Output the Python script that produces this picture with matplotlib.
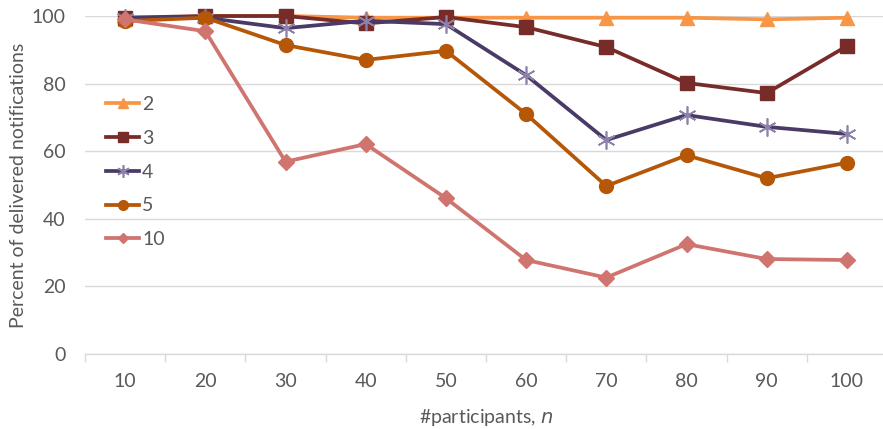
import matplotlib
matplotlib.use("Agg")
import matplotlib.pyplot as plt
from matplotlib.ticker import FixedLocator

plt.rcParams['font.family'] = ['Lato', 'DejaVu Sans']

categories = ["10", "20", "30", "40", "50", "60", "70", "80", "90", "100"]
series_names = ["2", "3", "4", "5", "10"]

vals_2 = [99.0, 100.0, 100.0, 99.5, 99.5, 99.5, 99.5, 99.5, 99.0, 99.5]
vals_3 = [99.5, 100.0, 100.0, 97.8, 99.7, 96.7, 90.8, 80.2, 77.2, 91.1]
vals_4 = [99.5, 99.5, 96.4, 98.6, 97.6, 82.5, 63.3, 70.7, 67.2, 65.1]
vals_5 = [98.5, 99.5, 91.4, 87.0, 89.7, 71.0, 49.7, 58.8, 52.0, 56.6]
vals_10 = [99.0, 95.5, 56.9, 62.1, 46.1, 27.8, 22.6, 32.5, 28.1, 27.8]

yticks = [0, 20, 40, 60, 80, 100]

fig = plt.figure(figsize=(8.83, 4.29), dpi=100)
ax = fig.add_axes([85 / 883, 1 - 354 / 429, 802 / 883, 338 / 429])

x = list(range(len(categories)))
text_col = "#595959"

styles = [
    dict(color="#F79646", marker="^", ms=10, mec="#F79646", mfc="#F79646"),
    dict(color="#772C2A", marker="s", ms=10, mec="#772C2A", mfc="#772C2A"),
    dict(color="#4A3A66", marker=(6, 2, 0), ms=13, mec="#8C82AA", mfc="none", mew=1.2),
    dict(color="#B65708", marker="o", ms=10, mec="#B65708", mfc="#B65708"),
    dict(color="#D07470", marker="D", ms=8, mec="#D07470", mfc="#D07470"),
]
all_vals = [vals_2, vals_3, vals_4, vals_5, vals_10]

handles = []
for name, vals, st in zip(series_names, all_vals, styles):
    h, = ax.plot(x, vals, lw=2.7, label=name, zorder=3, clip_on=False,
                 solid_joinstyle="round", **st)
    handles.append(h)

ax.set_xlim(-0.5, len(categories) - 0.5)
ax.set_ylim(0, 100)
ax.set_yticks(yticks)
ax.set_xticks(x)
ax.set_xticklabels(categories)
ax.xaxis.set_minor_locator(FixedLocator([i - 0.5 for i in range(len(categories) + 1)]))

ax.grid(axis="y", color="#D9D9D9", lw=1.0)
ax.set_axisbelow(True)
for s in ["top", "right", "left"]:
    ax.spines[s].set_visible(False)
ax.spines["bottom"].set_color("#D9D9D9")
ax.spines["bottom"].set_linewidth(1.0)

ax.tick_params(axis="y", length=0, labelsize=14, labelcolor=text_col, pad=14)
ax.tick_params(axis="x", which="major", length=0, labelsize=14, labelcolor=text_col, pad=14)
ax.tick_params(axis="x", which="minor", length=6, color="#D9D9D9", width=1.0)

ax.set_ylabel("Percent of delivered notifications", fontsize=14, color=text_col, labelpad=3)
ax.set_xlabel("#participants, $n$", fontsize=14, color=text_col, labelpad=12)

leg = ax.legend(handles=handles, loc="upper left", bbox_to_anchor=(0.012, 0.797),
                frameon=False, fontsize=14, labelcolor=text_col,
                handlelength=1.7, handletextpad=0.15, labelspacing=0.86,
                borderaxespad=0.2, markerscale=0.7)

fig.savefig("out.png", dpi=100)
